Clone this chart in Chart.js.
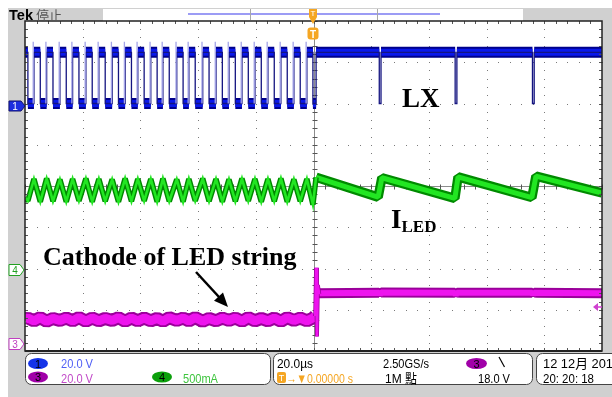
<!DOCTYPE html>
<html lang="en">
  <head>
    <meta charset="UTF-8" />
    <title>LX / ILED / Cathode</title>
    <style>
      body {
        margin: 0;
        width: 612px;
        height: 397px;
        position: relative;
        overflow: hidden;
        background: #fff;
      }
      #bg {
        position: absolute;
        left: 8px;
        top: 8px;
        width: 604px;
        height: 389px;
        background: #d0d0d0;
      }
      #recbar {
        position: absolute;
        left: 103px;
        top: 9px;
        width: 420px;
        height: 12px;
        background: #fff;
      }
      #scope {
        position: absolute;
        left: 0;
        top: 0;
      }
      #overlay {
        position: absolute;
        left: 0;
        top: 0;
        pointer-events: none;
      }
    </style>
    <script src="https://cdn.jsdelivr.net/npm/chart.js"></script>
  </head>
  <body>
    <div id="bg"></div>
    <div id="recbar"></div>
    <canvas id="scope" width="612" height="397"></canvas>

    <svg id="overlay" width="612" height="397" font-family="Liberation Sans, Arial, sans-serif">
      <!-- header -->
      <text x="9" y="19.5" font-size="14" font-weight="bold" textLength="24" lengthAdjust="spacingAndGlyphs">Tek</text>
      <text x="36" y="19.5" font-size="13" fill="#555" font-family="Noto Sans CJK TC">停止</text>
      <line x1="188" y1="14" x2="440" y2="14" stroke="#7b7bf2" stroke-width="1.5" />
      <line x1="250.5" y1="9" x2="250.5" y2="20" stroke="#a8a8a8" />
      <line x1="377.5" y1="9" x2="377.5" y2="20" stroke="#a8a8a8" />
      <rect x="309" y="9" width="8" height="8" fill="#f5a623" />
      <text x="313" y="16" font-size="8" fill="#fff" text-anchor="middle">T</text>
      <polygon points="309,17 317,17 313,24" fill="#f5a623" />
      <rect x="307.5" y="27.5" width="11" height="12" rx="3" fill="#f5a623" />
      <text x="313" y="37.5" font-size="10" font-weight="bold" fill="#fff" text-anchor="middle">T</text>

      <!-- channel ground markers -->
      <polygon points="9,101 21,101 25,106 21,111 9,111" fill="#1d2ee0" stroke="#101070" />
      <text x="15" y="110" font-size="10" fill="#fff" text-anchor="middle">1</text>
      <polygon points="9,264.5 20,264.5 24,270 20,275.5 9,275.5" fill="#fff" stroke="#22a022" />
      <text x="15" y="274" font-size="10" fill="#22a022" text-anchor="middle">4</text>
      <polygon points="9,338.5 20,338.5 24,344 20,349.5 9,349.5" fill="#fff" stroke="#c040c0" />
      <text x="15" y="348" font-size="10" fill="#c040c0" text-anchor="middle">3</text>
      <polygon points="593,307 598,303 598,311" fill="#d040d0" />
      <line x1="597" y1="307" x2="602" y2="307" stroke="#d040d0" stroke-width="1.5" />

      <!-- annotations -->
      <g font-family="Liberation Serif, Times New Roman, serif" font-weight="bold" fill="#000">
        <text x="402" y="107" font-size="27">LX</text>
        <text x="391" y="228" font-size="27">I<tspan font-size="17" dy="4">LED</tspan></text>
        <text x="43" y="265" font-size="26">Cathode of LED string</text>
      </g>
      <line x1="196" y1="272" x2="219" y2="297" stroke="#000" stroke-width="2.5" />
      <polygon points="228,307 214,300.7 223,292.6" fill="#000" />

      <!-- bottom readout -->
      <rect x="25.5" y="353.5" width="245" height="31" rx="6" fill="#fff" stroke="#444" />
      <rect x="273.5" y="353.5" width="259" height="31" rx="6" fill="#fff" stroke="#444" />
      <rect x="536.5" y="353.5" width="90" height="31" rx="6" fill="#fff" stroke="#444" />

      <ellipse cx="38" cy="363.5" rx="10" ry="5.5" fill="#1433e8" />
      <text x="38" y="367.5" font-size="11" text-anchor="middle">1</text>
      <text x="61" y="368" font-size="13" fill="#4f5ef5" textLength="32" lengthAdjust="spacingAndGlyphs">20.0 V</text>
      <ellipse cx="38" cy="377" rx="10" ry="5.5" fill="#a000a8" />
      <text x="38" y="381" font-size="11" text-anchor="middle">3</text>
      <text x="61" y="382.5" font-size="13" fill="#c24ac8" textLength="32" lengthAdjust="spacingAndGlyphs">20.0 V</text>
      <ellipse cx="162" cy="377" rx="10" ry="5.5" fill="#0ca00c" />
      <text x="162" y="381" font-size="11" text-anchor="middle">4</text>
      <text x="183" y="382.5" font-size="13" fill="#3ec43e" textLength="35" lengthAdjust="spacingAndGlyphs">500mA</text>

      <text x="277" y="368" font-size="13" textLength="36" lengthAdjust="spacingAndGlyphs">20.0µs</text>
      <rect x="277" y="372" width="9" height="11" rx="2" fill="#f5a623" />
      <text x="281.5" y="381" font-size="9" fill="#fff" text-anchor="middle">T</text>
      <text x="286" y="382.5" font-size="13" fill="#f5a623" textLength="67" lengthAdjust="spacingAndGlyphs">→▼0.00000 s</text>
      <text x="383" y="368" font-size="13" textLength="46" lengthAdjust="spacingAndGlyphs">2.50GS/s</text>
      <text x="385" y="382.5" font-size="13" font-family="Liberation Sans, Noto Sans CJK TC" textLength="32" lengthAdjust="spacingAndGlyphs">1M 點</text>
      <ellipse cx="476.5" cy="363.5" rx="10.5" ry="5.5" fill="#a000a8" />
      <text x="476.5" y="367.5" font-size="11" text-anchor="middle">3</text>
      <line x1="499" y1="357" x2="504.5" y2="367" stroke="#000" stroke-width="1.2" />
      <text x="478" y="382.5" font-size="13" textLength="32" lengthAdjust="spacingAndGlyphs">18.0 V</text>

      <text x="543" y="368" font-size="13" font-family="Liberation Sans, Noto Sans CJK TC" textLength="70" lengthAdjust="spacingAndGlyphs">12 12月 201</text>
      <text x="543" y="382.5" font-size="13" textLength="51" lengthAdjust="spacingAndGlyphs">20: 20: 18</text>
    </svg>

    <script>
      // time axis in µs (20 µs/div, trigger at centre), vertical axis in divisions
      const xMin = -100, xMax = 100;
      const yMin = -4, yMax = 4;

      // LX (ch1): switching edges, µs
      const lxFall = [-99.0, -94.7, -90.3, -85.7, -81.3, -76.7, -72.2, -67.6, -63.1, -58.7, -54.2, -50.0, -45.2,
        -41.0, -36.2, -31.6, -27.1, -22.6, -18.1, -13.6, -9.1, -4.6, -0.2, 22.8, 49.1, 75.9];
      const lxRise = [-96.9, -92.5, -87.9, -83.5, -78.9, -74.4, -69.8, -65.3, -60.9, -56.4, -52.2, -47.4, -43.2,
        -38.4, -33.8, -29.3, -24.8, -20.3, -15.8, -11.3, -6.8, -2.3, 0.9, 23.4, 49.7, 76.5];
      const lxHigh = 3.24, lxLow = 2.0, lxRing = 3.5;

      // ILED (ch4): triangle on the left (valley at LX fall, peak at LX rise)
      const ledStart = -0.28;
      const ledValley = [-0.36, -0.38, -0.37, -0.38, -0.36, -0.38, -0.37, -0.38, -0.37, -0.36, -0.38, -0.37,
        -0.38, -0.36, -0.37, -0.38, -0.37, -0.36, -0.38, -0.37, -0.38, -0.37, -0.45];
      const ledPeak = [0.17, 0.18, 0.16, 0.17, 0.18, 0.17, 0.16, 0.18, 0.17, 0.17, 0.18, 0.16,
        0.17, 0.18, 0.17, 0.16, 0.18, 0.17, 0.17, 0.18, 0.16, 0.17];
      // ILED after the trigger: sawtooth
      const ledSawT = [0.9, 22.4, 23.7, 49.0, 50.1, 75.7, 77.1, 100];
      const ledSawV = [0.21, -0.27, 0.2, -0.3, 0.22, -0.28, 0.24, -0.17];

      // cathode (ch3): small ripple before the trigger
      const cathStart = -3.23;
      const cathAtFall = [-3.2, -3.19, -3.21, -3.2, -3.19, -3.2, -3.21, -3.19, -3.2, -3.2, -3.21, -3.19,
        -3.2, -3.19, -3.21, -3.2, -3.2, -3.19, -3.21, -3.2, -3.19, -3.2, -3.2];
      const cathAtRise = [-3.27, -3.28, -3.26, -3.27, -3.28, -3.27, -3.26, -3.28, -3.27, -3.27, -3.28,
        -3.26, -3.27, -3.28, -3.27, -3.26, -3.28, -3.27, -3.27, -3.28, -3.26, -3.27];
      const cathSpikeT = [0.6, 0.9, 1.2, 1.5, 2.0];
      const cathSpikeV = [-3.15, -1.98, -3.65, -2.4, -2.62];
      const cathRightT = [1.8, 22.7, 23.0, 23.4, 49.0, 49.3, 49.7, 75.8, 76.1, 76.5, 100];
      const cathRightV = [-2.6, -2.59, -2.64, -2.58, -2.59, -2.65, -2.59, -2.59, -2.64, -2.59, -2.6];

      const pt = (x, y) => ({ x, y });
      const gap = (x) => ({ x, y: null });

      // build the traces
      const lxTrace = [pt(xMin, lxHigh)];
      const lxBand = [];
      const lxRings = [];
      let segStart = xMin;
      lxFall.forEach((f, i) => {
        const r = lxRise[i];
        lxTrace.push(pt(f, lxHigh), pt(f, lxLow), pt(r, lxLow), pt(r, lxHigh));
        lxBand.push(pt(segStart, lxHigh), pt(f, lxHigh), gap(f));
        if (r - f > 1) lxBand.push(pt(f, lxLow), pt(r, lxLow), gap(r));
        if (r < 0) lxRings.push(pt(r - 0.25, lxLow), pt(r - 0.25, lxRing), gap(r));
        segStart = r;
      });
      lxTrace.push(pt(xMax, lxHigh));
      lxBand.push(pt(segStart, lxHigh), pt(xMax, lxHigh));

      const leftFall = lxFall.filter((t) => t < 0);
      const leftRise = lxRise.filter((t) => t < 0);

      const ledLeft = [pt(xMin, ledStart)];
      const cathLeft = [pt(xMin, cathStart)];
      leftFall.forEach((f, i) => {
        ledLeft.push(pt(f, ledValley[i]));
        cathLeft.push(pt(f, cathAtFall[i]));
        if (i < leftRise.length) {
          ledLeft.push(pt(leftRise[i], ledPeak[i]));
          cathLeft.push(pt(leftRise[i], cathAtRise[i]));
        }
      });
      ledLeft.push(pt(ledSawT[0], ledSawV[0]));
      cathLeft.push(pt(cathSpikeT[0], cathSpikeV[0]));
      const ledRight = ledSawT.map((t, i) => pt(t, ledSawV[i]));
      const cathSpike = cathSpikeT.map((t, i) => pt(t, cathSpikeV[i]));
      const cathRight = cathRightT.map((t, i) => pt(t, cathRightV[i]));

      const blueDark = "#00008c", blue = "#0a18ea", blueLight = "#a4a4e8";
      const greenDark = "#008a00", green = "#22e622";
      const magDark = "#9a009a", mag = "#ee14ee";

      const line = (data, color, width, order) => ({
        data,
        borderColor: color,
        borderWidth: width,
        order,
        clip: 0,
        pointRadius: 0,
        borderCapStyle: "butt",
        borderJoinStyle: width > 3 ? "bevel" : "miter",
        spanGaps: false,
      });

      // graticule: dotted divisions, centre cross with minor ticks, border ticks
      const graticule = {
        id: "graticule",
        beforeDraw(chart) {
          const { ctx, chartArea: a } = chart;
          ctx.save();
          ctx.fillStyle = "#fff";
          ctx.fillRect(a.left, a.top, a.right - a.left, a.bottom - a.top);
          ctx.restore();
        },
        beforeDatasetsDraw(chart) {
          const { ctx, chartArea: a } = chart;
          const xs = chart.scales.x, ys = chart.scales.y;
          ctx.save();
          ctx.fillStyle = "#7a7a7a";
          for (let k = -80; k <= 80; k += 20) {
            if (k === 0) continue;
            const px = Math.round(xs.getPixelForValue(k));
            for (let i = 0; i <= 40; i++) {
              const py = Math.round(ys.getPixelForValue(yMin + i * 0.2));
              ctx.fillRect(px, py, 1, 1);
            }
          }
          for (let k = -3; k <= 3; k++) {
            if (k === 0) continue;
            const py = Math.round(ys.getPixelForValue(k));
            for (let i = 0; i <= 50; i++) {
              const px = Math.round(xs.getPixelForValue(xMin + i * 4));
              ctx.fillRect(px, py, 1, 1);
            }
          }
          const cx = Math.round(xs.getPixelForValue(0)) + 0.5;
          const cy = Math.round(ys.getPixelForValue(0)) + 0.5;
          ctx.strokeStyle = "#8c8c8c";
          ctx.lineWidth = 1;
          ctx.beginPath();
          ctx.moveTo(cx, a.top);
          ctx.lineTo(cx, a.bottom);
          ctx.moveTo(a.left, cy);
          ctx.lineTo(a.right, cy);
          ctx.stroke();
          ctx.strokeStyle = "#555";
          ctx.beginPath();
          for (let i = 0; i <= 40; i++) {
            const py = Math.round(ys.getPixelForValue(yMin + i * 0.2)) + 0.5;
            ctx.moveTo(cx - 2, py);
            ctx.lineTo(cx + 3, py);
          }
          for (let i = 0; i <= 50; i++) {
            const px = Math.round(xs.getPixelForValue(xMin + i * 4)) + 0.5;
            ctx.moveTo(px, cy - 2);
            ctx.lineTo(px, cy + 3);
          }
          ctx.stroke();
          ctx.restore();
        },
        afterDatasetsDraw(chart) {
          const { ctx, chartArea: a } = chart;
          const xs = chart.scales.x, ys = chart.scales.y;
          ctx.save();
          ctx.strokeStyle = "#555";
          ctx.lineWidth = 1;
          ctx.beginPath();
          for (let i = 1; i < 50; i++) {
            const px = Math.round(xs.getPixelForValue(xMin + i * 4)) + 0.5;
            ctx.moveTo(px, a.top);
            ctx.lineTo(px, a.top + 3);
            ctx.moveTo(px, a.bottom);
            ctx.lineTo(px, a.bottom - 3);
          }
          for (let i = 1; i < 40; i++) {
            const py = Math.round(ys.getPixelForValue(yMin + i * 0.2)) + 0.5;
            ctx.moveTo(a.left, py);
            ctx.lineTo(a.left + 3, py);
            ctx.moveTo(a.right, py);
            ctx.lineTo(a.right - 3, py);
          }
          ctx.stroke();
          ctx.strokeStyle = "#222";
          ctx.lineWidth = 1.5;
          ctx.strokeRect(a.left, a.top, a.right - a.left, a.bottom - a.top);
          ctx.lineWidth = 2;
          ctx.beginPath();
          ctx.moveTo(a.left, a.bottom);
          ctx.lineTo(a.right, a.bottom);
          ctx.stroke();
          ctx.restore();
        },
      };

      const chart = new Chart(document.getElementById("scope"), {
        type: "line",
        data: {
          datasets: [
            line(lxRings, blueLight, 1.3, 1),
            line(lxTrace, "#141480", 1.3, 2),
            line(lxBand, blue, 7, 3),
            line(lxBand, blueDark, 11, 4),
            line(ledLeft, green, 2.6, 5),
            line(ledLeft, greenDark, 5.5, 6),
            line(ledRight, green, 5, 7),
            line(ledRight, greenDark, 9.5, 8),
            line(cathSpike, mag, 2.5, 9),
            line(cathSpike, magDark, 4, 10),
            line(cathLeft, mag, 9, 11),
            line(cathLeft, magDark, 13, 12),
            line(cathRight, mag, 6, 13),
            line(cathRight, magDark, 10, 14),
          ],
        },
        options: {
          responsive: false,
          animation: false,
          events: [],
          layout: { padding: { left: 25, top: 21, right: 10, bottom: 46 } },
          elements: { line: { tension: 0 }, point: { radius: 0 } },
          plugins: { legend: { display: false }, tooltip: { enabled: false } },
          scales: {
            x: { type: "linear", min: xMin, max: xMax, display: false },
            y: { type: "linear", min: yMin, max: yMax, display: false },
          },
        },
        plugins: [graticule],
      });
    </script>
  </body>
</html>
